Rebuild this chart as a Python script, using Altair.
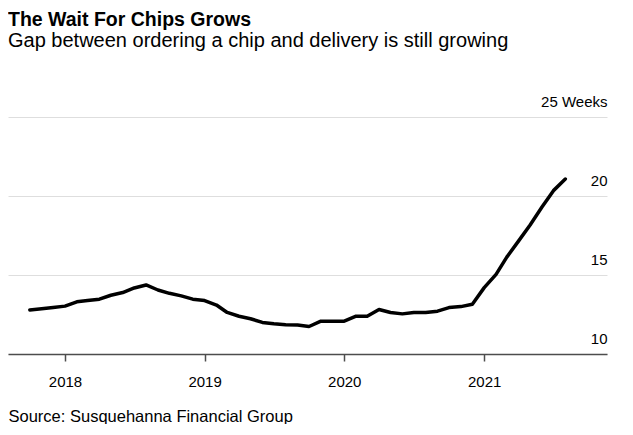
import altair as alt
import pandas as pd

months = pd.date_range("2017-10-01", "2021-08-01", freq="MS").strftime("%Y-%m-%d").tolist()
weeks = [12.79, 12.86, 12.94, 13.03, 13.30, 13.38, 13.47, 13.72, 13.89, 14.18, 14.37, 14.05,
         13.84, 13.68, 13.47, 13.38, 13.10, 12.63, 12.39, 12.23, 12.00, 11.91, 11.85, 11.83,
         11.74, 12.08, 12.08, 12.08, 12.39, 12.39, 12.82, 12.63, 12.54, 12.63, 12.63, 12.71,
         12.94, 13.00, 13.15, 14.20, 15.04, 16.13, 17.16, 18.17, 19.30, 20.34, 21.07]
year_ticks = [2018, 2019, 2020, 2021]
y_ticks = [10, 15, 20, 25]

df = pd.DataFrame({"month": months, "weeks": weeks})

FONT = "Liberation Sans"

line = alt.Chart(df).mark_line(color="black", strokeWidth=3.5, strokeJoin="round", strokeCap="round").encode(
    x=alt.X("month:T",
            scale=alt.Scale(domain=[alt.DateTime(year=2017, month=8, date=5),
                                    alt.DateTime(year=2021, month=11, date=18)]),
            axis=alt.Axis(values=[alt.DateTime(year=y, month=1, date=1) for y in year_ticks],
                          format="%Y", grid=False, domainColor="#4d4d4d", domainWidth=1.5,
                          tickColor="#4d4d4d", tickWidth=1.5, tickSize=7,
                          labelFontSize=15, labelColor="black", labelFont=FONT,
                          labelPadding=13, labelFlush=False,
                          title="Source: Susquehanna Financial Group",
                          titleFont=FONT, titleFontSize=16.5, titleFontWeight="normal",
                          titleColor="black", titleAnchor="start", titleAlign="left",
                          titleBaseline="alphabetic", titleX=0, titleY=67)),
    y=alt.Y("weeks:Q",
            scale=alt.Scale(domain=[10, 25], nice=False, zero=False),
            axis=alt.Axis(orient="right", values=y_ticks, grid=True, gridColor="#dedede",
                          gridWidth=1, domain=False, ticks=False, tickSize=0,
                          labelAlign="right", labelBaseline="alphabetic", labelOffset=-11,
                          labelPadding=0, labelFontSize=15, labelColor="black", labelFont=FONT,
                          labelExpr="datum.value == 25 ? '25 Weeks' : datum.label",
                          title=None)),
)

chart = line.properties(
    width=599,
    height=237,
    title=alt.TitleParams(
        text="The Wait For Chips Grows",
        subtitle="Gap between ordering a chip and delivery is still growing",
        anchor="start",
        font=FONT, fontSize=19.5, fontWeight="bold", color="black",
        subtitleFont=FONT, subtitleFontSize=20, subtitleColor="black",
        subtitlePadding=1, offset=42,
    ),
    autosize=alt.AutoSizeParams(type="none"),
    padding={"left": 0, "top": 109, "right": 10, "bottom": 70},
    background="white",
).configure_view(stroke=None)

chart.save("out.html", embed_options={"renderer": "svg", "actions": False})
